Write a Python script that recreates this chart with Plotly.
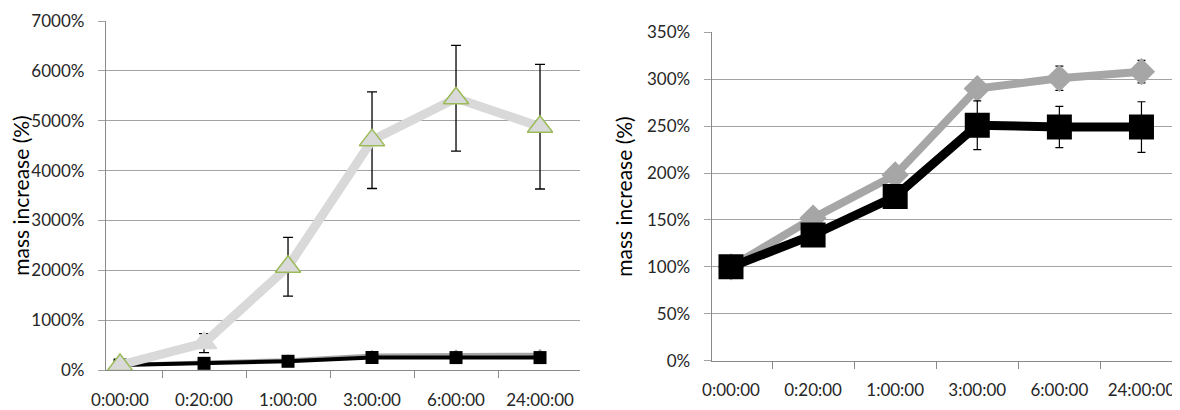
import plotly.graph_objects as go

times = ["0:00:00", "0:20:00", "1:00:00", "3:00:00", "6:00:00", "24:00:00"]
tri_vals = [100, 540, 2070, 4610, 5450, 4880]
tri_err = [60, 190, 590, 970, 1060, 1250]
gray_vals = [100, 152, 198, 290, 301, 308]
gray_err = [3, 5, 7, 9, 13, 12]
black_vals = [100, 134, 175, 251, 249, 249]
black_err = [3, 5, 8, 26, 22, 27]
left_yticks = [0, 1000, 2000, 3000, 4000, 5000, 6000, 7000]
right_yticks = [0, 50, 100, 150, 200, 250, 300, 350]

xs = list(range(len(times)))
OFF = 8  # page body margin
W, H = 1180 - OFF, 410 - OFF
FONT = "Lato"
TXT = "#262626"
GRID = "#a3a3a3"
AXL = "#8a8a8a"

fig = go.Figure()

# ---- left chart ----
fig.add_trace(go.Scatter(
    x=xs, y=gray_vals, xaxis="x", yaxis="y", mode="lines+markers",
    line=dict(color="#a6a6a6", width=4),
    marker=dict(symbol="diamond", size=9, color="#a6a6a6"),
    error_y=dict(type="data", array=gray_err, color="black", thickness=1.2, width=4),
    showlegend=False))
fig.add_trace(go.Scatter(
    x=xs, y=black_vals, xaxis="x", yaxis="y", mode="lines+markers",
    line=dict(color="black", width=4),
    marker=dict(symbol="square", size=13, color="black"),
    error_y=dict(type="data", array=black_err, color="black", thickness=1.2, width=4),
    showlegend=False))
fig.add_trace(go.Scatter(
    x=xs, y=tri_vals, xaxis="x", yaxis="y", mode="lines",
    line=dict(color="#d9d9d9", width=9),
    error_y=dict(type="data", array=tri_err, color="black", thickness=1.3, width=5),
    showlegend=False))
fig.add_trace(go.Scatter(
    x=xs, y=tri_vals, xaxis="x", yaxis="y", mode="markers",
    marker=dict(symbol="triangle-up", size=22, color="#d9d9d9",
                line=dict(color=["#9bbb59", "#d9d9d9", "#9bbb59", "#9bbb59", "#9bbb59", "#9bbb59"],
                          width=1.5)),
    showlegend=False))

# ---- right chart ----
fig.add_trace(go.Scatter(
    x=xs, y=gray_vals, xaxis="x2", yaxis="y2", mode="lines+markers",
    line=dict(color="#a6a6a6", width=8),
    marker=dict(symbol="diamond", size=21, color="#a6a6a6"),
    error_y=dict(type="data", array=gray_err, color="black", thickness=1.2, width=4),
    showlegend=False))
fig.add_trace(go.Scatter(
    x=xs, y=black_vals, xaxis="x2", yaxis="y2", mode="lines+markers",
    line=dict(color="black", width=9),
    marker=dict(symbol="square", size=25, color="black"),
    error_y=dict(type="data", array=black_err, color="black", thickness=1.2, width=4),
    showlegend=False))

def xaxis_cfg(x0, x1, rng):
    return dict(
        domain=[(x0 - OFF) / W, (x1 - OFF) / W], range=rng, tickmode="array",
        tickvals=xs, ticktext=times,
        ticks="", showgrid=False, zeroline=False, showline=True, linecolor=AXL, linewidth=1.3,
        tickfont=dict(family=FONT, size=17, color=TXT), ticklabelstandoff=14,
        minor=dict(tickmode="array", tickvals=[i + 0.5 for i in xs], ticks="outside",
                   ticklen=7, tickcolor=AXL, tickwidth=1.3, showgrid=False),
        automargin=False, fixedrange=True)

def yaxis_cfg(ytop, ybot, rng, tv, anchor, tfs, standoff):
    return dict(
        domain=[(H - (ybot - OFF)) / H, (H - (ytop - OFF)) / H], range=rng,
        tickmode="array", tickvals=tv, ticktext=[f"{v}%" for v in tv], anchor=anchor,
        showgrid=True, gridcolor=GRID, gridwidth=1.3, zeroline=False,
        showline=True, linecolor=AXL, linewidth=1.3,
        ticks="outside", ticklen=7, tickcolor=GRID, tickwidth=1.3,
        tickfont=dict(family=FONT, size=17, color=TXT), ticklabelstandoff=10,
        title=dict(text="mass increase (%)", font=dict(family=FONT, size=tfs, color="black"),
                   standoff=standoff),
        automargin=False, fixedrange=True)

fig.update_layout(
    width=W, height=H, margin=dict(l=0, r=0, t=0, b=0),
    paper_bgcolor="white", plot_bgcolor="white",
    xaxis=dict(**xaxis_cfg(106, 580, [-0.167, 5.476]), anchor="y"),
    yaxis=yaxis_cfg(21, 370, [0, 7000], left_yticks, "x", 21, 6),
    xaxis2=dict(**xaxis_cfg(711.7, 1178, [-0.235, 5.445]), anchor="y2"),
    yaxis2=yaxis_cfg(32.3, 360.7, [0, 350], right_yticks, "x2", 21, 8),
)

fig.write_html("out.html")
